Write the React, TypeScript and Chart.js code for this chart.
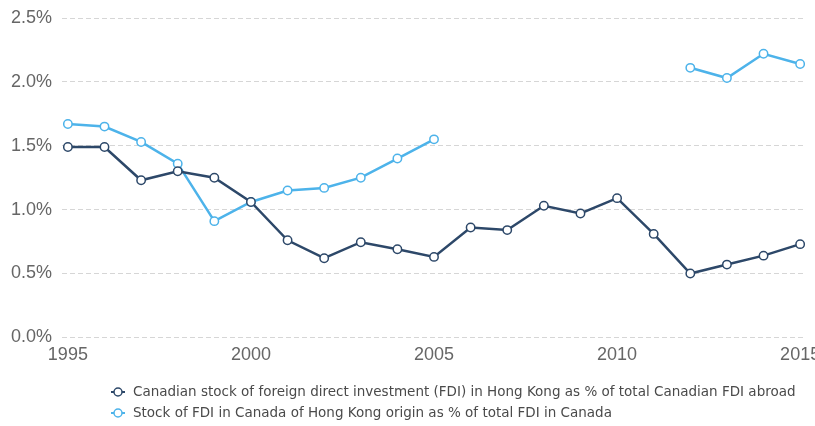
import React, { useEffect, useRef } from "react";
import { Chart, registerables } from "chart.js";

Chart.register(...registerables);

const years = [1995, 1996, 1997, 1998, 1999, 2000, 2001, 2002, 2003, 2004, 2005, 2006, 2007, 2008, 2009, 2010, 2011, 2012, 2013, 2014, 2015];
const canadaInHK = [1.49, 1.49, 1.23, 1.3, 1.25, 1.06, 0.76, 0.62, 0.745, 0.69, 0.63, 0.86, 0.84, 1.03, 0.97, 1.09, 0.81, 0.5, 0.57, 0.64, 0.73];
const hkInCanada = [1.67, 1.65, 1.53, 1.36, 0.91, 1.06, 1.15, 1.17, 1.25, 1.4, 1.55, null, null, null, null, null, null, 2.11, 2.03, 2.22, 2.14];
const xTicks = [1995, 2000, 2005, 2010, 2015];
const seriesLabels = [
  "Canadian stock of foreign direct investment (FDI) in Hong Kong as % of total Canadian FDI abroad",
  "Stock of FDI in Canada of Hong Kong origin as % of total FDI in Canada",
];
const seriesColors = ["#2d4869", "#4db3ea"];

const TICK_FONT = "'Liberation Sans', Arial, sans-serif";
const LEGEND_FONT = "'DejaVu Sans', sans-serif";

const legendPlugin = {
  id: "customLegend",
  afterDraw(chart: any) {
    const ctx = chart.ctx;
    ctx.save();
    chart.data.datasets.forEach((ds: any, i: number) => {
      const y = 392 + i * 21;
      const cx = 118;
      ctx.strokeStyle = ds.borderColor;
      ctx.lineWidth = 2;
      ctx.beginPath();
      ctx.moveTo(cx - 7, y);
      ctx.lineTo(cx + 7, y);
      ctx.stroke();
      ctx.beginPath();
      ctx.arc(cx, y, 4, 0, Math.PI * 2);
      ctx.fillStyle = "#fff";
      ctx.fill();
      ctx.lineWidth = 1.5;
      ctx.stroke();
      ctx.fillStyle = "#4a4a4a";
      ctx.font = `13.5px ${LEGEND_FONT}`;
      ctx.textBaseline = "middle";
      ctx.textAlign = "left";
      ctx.fillText(ds.label, 133, y);
    });
    ctx.restore();
  },
};

export default function App() {
  const ref = useRef<HTMLCanvasElement>(null);
  useEffect(() => {
    document.body.style.margin = "0";
    const mk = (vals: (number | null)[]) => years.map((x, i) => ({ x, y: vals[i] }));
    const chart = new Chart(ref.current!, {
      type: "line",
      data: {
        datasets: [canadaInHK, hkInCanada].map((vals, i) => ({
          label: seriesLabels[i],
          data: mk(vals) as any,
          borderColor: seriesColors[i],
          backgroundColor: "#ffffff",
          pointBackgroundColor: "#ffffff",
          pointBorderColor: seriesColors[i],
          pointBorderWidth: 1.5,
          pointRadius: 4.2,
          borderWidth: 2.5,
          spanGaps: false,
          tension: 0,
        })),
      },
      plugins: [legendPlugin],
      options: {
        responsive: false,
        animation: false,
        layout: { padding: { left: 1, right: 9, top: 18, bottom: 53 } },
        plugins: { legend: { display: false }, tooltip: { enabled: false } },
        scales: {
          x: {
            type: "linear",
            min: 1994.84,
            max: 2015.16,
            afterBuildTicks: (s: any) => {
              s.ticks = xTicks.map((v) => ({ value: v }));
            },
            afterFit: (s: any) => {
              s.paddingLeft = 0;
              s.paddingRight = 0;
            },
            grid: { display: false, drawTicks: false },
            border: { display: false },
            ticks: {
              padding: 7,
              color: "#666",
              font: { family: TICK_FONT, size: 18 },
              maxRotation: 0,
              autoSkip: false,
              callback: (v: any) => String(v),
            },
          },
          y: {
            min: 0,
            max: 2.5,
            afterFit: (s: any) => {
              s.paddingTop = 0;
              s.paddingBottom = 0;
            },
            grid: { color: "#d6d6d6", lineWidth: 1, drawTicks: false },
            border: { display: false, dash: [5, 3] },
            ticks: {
              stepSize: 0.5,
              padding: 10,
              color: "#666",
              font: { family: TICK_FONT, size: 18 },
              callback: (v: any) => Number(v).toFixed(1) + "%",
            },
          },
        },
      },
    });
    return () => chart.destroy();
  }, []);
  return (
    <div style={{ position: "absolute", left: 0, top: 0, width: 815, height: 426, overflow: "hidden" }}>
      <canvas ref={ref} width={815} height={426} style={{ width: 815, height: 426, display: "block" }} />
    </div>
  );
}
